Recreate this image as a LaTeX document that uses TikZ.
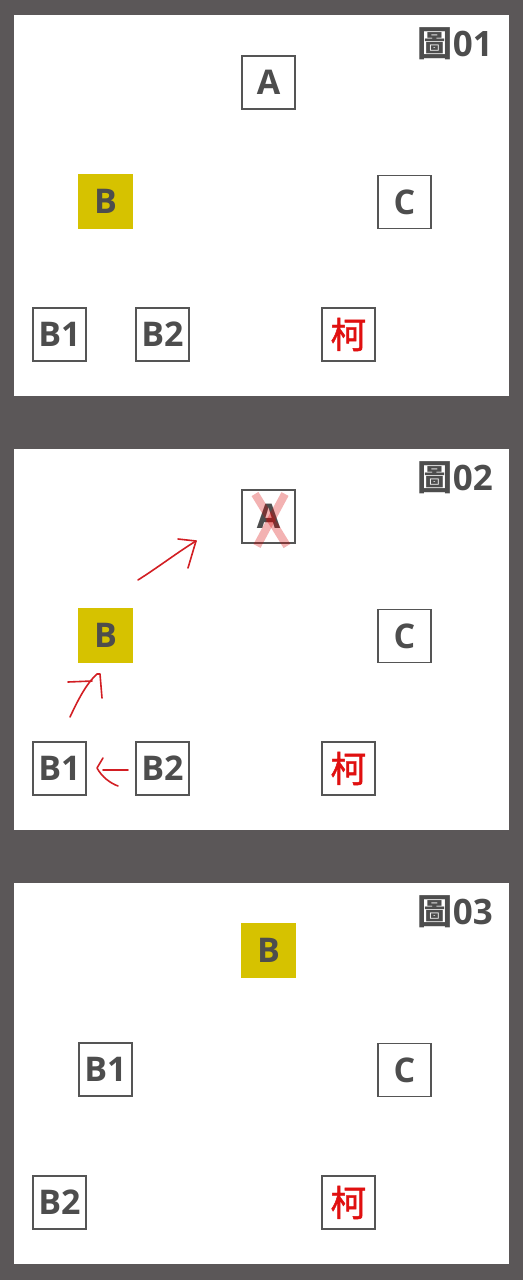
\documentclass[tikz,border=0pt]{standalone}
\usepackage{fontspec}
\setmainfont{Open Sans}
\newfontfamily\cjk{Noto Sans CJK TC}
\newfontfamily\cjkmed[FakeBold=1.3]{Noto Sans CJK TC}
\definecolor{bgdark}{HTML}{5B5758}
\definecolor{boxline}{HTML}{555555}
\definecolor{txt}{HTML}{4D4D4D}
\definecolor{yel}{HTML}{D6C200}
\definecolor{pen}{HTML}{D21E23}
\definecolor{kered}{HTML}{E01010}
\tikzset{
  panel/.style={fill=white, draw=none},
  boxnode/.style={draw=boxline, line width=1.7pt, fill=white, minimum width=53pt, minimum height=53pt, inner sep=0pt, text=txt, font=\bfseries\fontsize{34}{34}\selectfont},
  ybox/.style={fill=yel, draw=none, minimum width=55pt, minimum height=55pt, inner sep=0pt, text=txt, font=\bfseries\fontsize{34}{34}\selectfont},
  kebox/.style={boxnode, text=kered, font=\cjkmed\fontsize{36}{36}\selectfont},
  title/.style={anchor=east, text=txt, inner sep=0pt, font=\bfseries\fontsize{35}{35}\selectfont},
  penline/.style={draw=pen, line width=1.6pt, line cap=round, line join=round},
  xmark/.style={draw=red!85!black, opacity=0.3, line width=8pt}
}
\begin{document}
\begin{tikzpicture}[x=1pt,y=-1pt]
\useasboundingbox (0,0) rectangle (523,1280);
\fill[bgdark] (0,0) rectangle (523,1280);
% panels
\fill[panel] (14,15) rectangle (509,396);
\fill[panel] (14,449) rectangle (509,830);
\fill[panel] (14,883) rectangle (509,1264);
% panel 1
\node[title] (t1) at (493,44) {{\cjk 圖}01};
\node[boxnode] (a1) at (268.5,82.5) {A};
\node[ybox] (b1) at (105.5,201.5) {B};
\node[boxnode] (c1) at (404.5,202) {C};
\node[boxnode] (bb1) at (59.5,334.5) {B1};
\node[boxnode] (bc1) at (162.5,334.5) {B2};
\node[kebox] (k1) at (348.5,334.5) {柯};
% panel 2
\node[title] (t2) at (493,478) {{\cjk 圖}02};
\node[boxnode] (a2) at (268.5,516.5) {A};
\node[ybox] (b2) at (105.5,635.5) {B};
\node[boxnode] (c2) at (404.5,636) {C};
\node[boxnode] (bb2) at (59.5,768.5) {B1};
\node[boxnode] (bc2) at (162.5,768.5) {B2};
\node[kebox] (k2) at (348.5,768.5) {柯};
\draw[xmark] (255,494) -- (287,546);
\draw[xmark] (285,494) -- (257,546);
% hand-drawn arrows
\coordinate (p1s) at (138,580);
\coordinate (p1e) at (196,541);
\draw[penline] (p1s) .. controls (160,566) and (178,552) .. (p1e);
\draw[penline] (178,539) -- (p1e) -- (188,568);
\coordinate (p2s) at (70,717);
\coordinate (p2e) at (97,674);
\draw[penline] (p2s) .. controls (78,700) and (86,684) .. (p2e) -- (100,674) -- (102,698);
\draw[penline] (68,682) -- (92,681);
\coordinate (p3s) at (128,770);
\coordinate (p3e) at (103,770);
\draw[penline] (p3s) -- (p3e);
\draw[penline] (103,758) -- (97,768) .. controls (102,777) and (110,783) .. (118,786);
% panel 3
\node[title] (t3) at (493,912) {{\cjk 圖}03};
\node[ybox] (b3) at (268.5,950.5) {B};
\node[boxnode] (bb3) at (105.5,1069.5) {B1};
\node[boxnode] (c3) at (404.5,1070) {C};
\node[boxnode] (bc3) at (59.5,1202.5) {B2};
\node[kebox] (k3) at (348.5,1202.5) {柯};
\end{tikzpicture}
\end{document}
